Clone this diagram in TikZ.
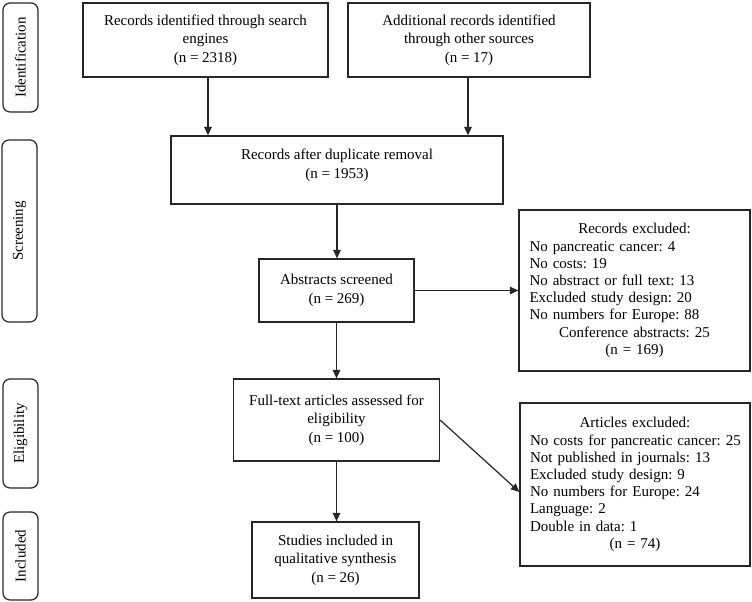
\documentclass[tikz,border=0pt]{standalone}
\usepackage{fontspec}
\setmainfont{Liberation Serif}
\usetikzlibrary{arrows.meta}
\frenchspacing
\begin{document}
\begin{tikzpicture}[x=1pt,y=1pt,
  every node/.style={inner sep=0pt},
  flowbox/.style={draw=black!85, line width=1.2pt, align=center,
    font=\fontsize{15}{18.5}\selectfont},
  plaintext/.style={align=center, font=\fontsize{15}{18.5}\selectfont},
  exbox/.style={draw=black!85, line width=1.2pt, align=left,
    font=\fontsize{15}{17.2}\selectfont, text width=210pt},
  phase/.style={draw=black!85, line width=1.2pt, rounded corners=7pt,
    rotate=90, font=\fontsize{15}{16}\selectfont, minimum height=35pt},
  arr/.style={draw=black!85, line width=1.2pt, -{Triangle[length=8.5pt,width=7.5pt]}}
]
\useasboundingbox (0,0) rectangle (752,-602);

% phase labels
\node[phase, minimum width=109pt] (pid) at (20.5,-57.5) {Identification};
\node[phase, minimum width=182pt] (psc) at (19.5,-231) {Screening};
\node[phase, minimum width=109pt] (pel) at (20.5,-433.5) {Eligibility};
\node[phase, minimum width=88pt] (pin) at (20.5,-556) {Included};

% main boxes
\node[flowbox, minimum width=245pt, minimum height=74pt] (b1) at (205.5,-40)
  {Records identified through search\\engines\\(n = 2318)};
\node[flowbox, minimum width=242pt, minimum height=74pt] (b2) at (469,-40)
  {Additional records identified\\through other sources\\(n = 17)};
\node[flowbox, minimum width=332pt, minimum height=68pt] (b3) at (337,-170) {};
\node[plaintext] (b3t) at ([yshift=4.5pt]b3.center)
  {Records after duplicate removal\\(n = 1953)};
\node[flowbox, minimum width=155pt, minimum height=63pt] (b4) at (336.5,-290.5)
  {Abstracts screened\\(n = 269)};
\node[flowbox, minimum width=206pt, minimum height=82pt] (b5) at (336.5,-420)
  {Full-text articles assessed for\\eligibility\\(n = 100)};
\node[flowbox, minimum width=167pt, minimum height=76pt] (b6) at (335.5,-560)
  {Studies included in\\qualitative synthesis\\(n = 26)};

% exclusion boxes
\node[exbox, minimum width=231pt, minimum height=161pt] (e1) at (634.5,-290.5)
  {\makebox[\linewidth][c]{Records excluded:}\\
   No pancreatic cancer: 4\\
   No costs: 19\\
   No abstract or full text: 13\\
   Excluded study design: 20\\
   No numbers for Europe: 88\\
   \makebox[\linewidth][c]{Conference abstracts: 25}\\
   \makebox[\linewidth][c]{(n = 169)}};
\node[exbox, minimum width=230pt, minimum height=163pt] (e2) at (635,-484.5)
  {\makebox[\linewidth][c]{Articles excluded:}\\
   \mbox{No costs for pancreatic cancer: 25}\\
   Not published in journals: 13\\
   Excluded study design: 9\\
   No numbers for Europe: 24\\
   Language: 2\\
   Double in data: 1\\
   \makebox[\linewidth][c]{(n = 74)}};

% connectors
\draw[arr] ([xshift=2.5pt]b1.south) -- ([xshift=2.5pt]b1.south |- b3.north);
\draw[arr] ([xshift=-1pt]b2.south) -- ([xshift=-1pt]b2.south |- b3.north);
\draw[arr] (b3.south) -- (b3.south |- b4.north);
\draw[arr] (b4.east) -- (b4.east -| e1.west);
\draw[arr] (b4.south) -- (b4.south |- b5.north);
\draw[arr] (b5.east) -- ([yshift=-7.5pt]e2.west);
\draw[arr] (b5.south) -- (b5.south |- b6.north);
\end{tikzpicture}
\end{document}
